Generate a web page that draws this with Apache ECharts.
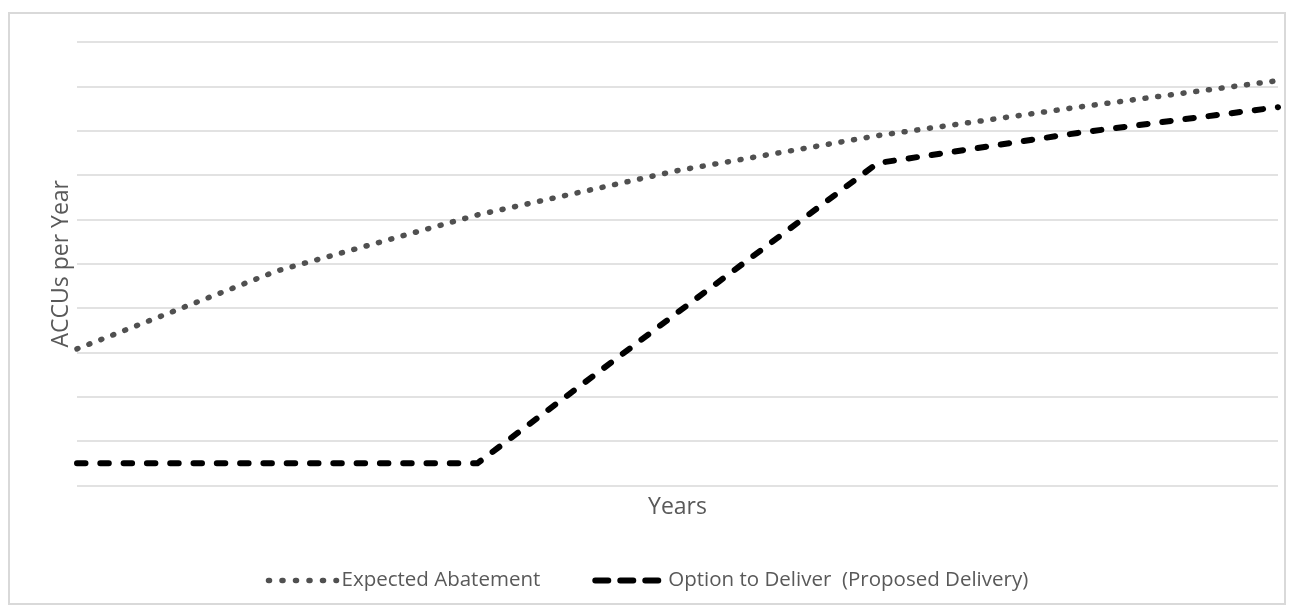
<!DOCTYPE html>
<html>
<head>
<meta charset="utf-8">
<script src="https://cdn.jsdelivr.net/npm/echarts@6/dist/echarts.min.js"></script>
<style>
  html, body { margin: 0; padding: 0; background: #fff; }
  #frame { position: absolute; left: 8px; top: 12px; width: 1278px; height: 593px; border: 2px solid #d9d9d9; box-sizing: border-box; }
  #chart { position: absolute; left: 0; top: 0; width: 1294px; height: 609px; }
</style>
</head>
<body>
<div id="frame"></div>
<div id="chart"></div>
<script>
// Years along the horizontal axis (labels are not shown)
const years = ['1', '2', '3', '4', '5', '6', '7'];

// ACCUs per year, in chart units
const expectedAbatement = [3.08, 4.84, 6.10, 7.10, 7.89, 8.53, 9.13];
const optionToDeliver = [0.5, 0.5, 0.5, 3.9, 7.27, 7.95, 8.53];

const seriesNames = ['Expected Abatement', 'Option to Deliver  (Proposed Delivery)'];

const textColor = '#595959';
const fontFamily = '"Open Sans", "Noto Sans", sans-serif';
const dotColor = '#505050';

const chart = echarts.init(document.getElementById('chart'), null, { renderer: 'canvas' });

chart.setOption({
  animation: false,
  backgroundColor: 'transparent',
  textStyle: { fontFamily: fontFamily, color: textColor },
  grid: { left: 77, right: 16, top: 42, bottom: 123.5, containLabel: false },
  legend: {
    data: [
      { name: seriesNames[0], lineStyle: { width: 5.5, type: [1, 12.5], cap: 'round', color: dotColor } },
      { name: seriesNames[1], lineStyle: { width: 6, type: [13, 12], cap: 'round', color: '#000000' } }
    ],
    top: 565,
    left: 'center',
    itemWidth: 68,
    itemHeight: 10,
    itemGap: 52,
    itemStyle: { opacity: 0 },
    textStyle: { color: textColor, fontSize: 20.5, fontFamily: fontFamily }
  },
  xAxis: {
    type: 'category',
    data: years,
    boundaryGap: false,
    axisLine: { show: false },
    axisTick: { show: false },
    axisLabel: { show: false },
    splitLine: { show: false },
    name: 'Years',
    nameLocation: 'middle',
    nameGap: 10,
    nameTextStyle: { color: textColor, fontSize: 23, fontFamily: fontFamily, verticalAlign: 'top' }
  },
  yAxis: {
    type: 'value',
    min: 0,
    max: 10,
    interval: 1,
    axisLine: { show: false },
    axisTick: { show: false },
    axisLabel: { show: false },
    splitLine: { show: true, lineStyle: { color: '#d9d9d9', width: 1.5 } },
    name: 'ACCUs per Year',
    nameLocation: 'middle',
    nameGap: 4,
    nameRotate: 90,
    nameTextStyle: { color: textColor, fontSize: 23, fontFamily: fontFamily }
  },
  series: [
    {
      name: seriesNames[0],
      type: 'line',
      data: expectedAbatement,
      symbol: 'none',
      color: dotColor,
      lineStyle: { color: dotColor, width: 5.5, type: [1, 11.8], cap: 'round', join: 'round' }
    },
    {
      name: seriesNames[1],
      type: 'line',
      data: optionToDeliver,
      symbol: 'none',
      color: '#000000',
      lineStyle: { color: '#000000', width: 6, type: [8.5, 14.8], cap: 'round', join: 'round' }
    }
  ]
});
</script>
</body>
</html>
